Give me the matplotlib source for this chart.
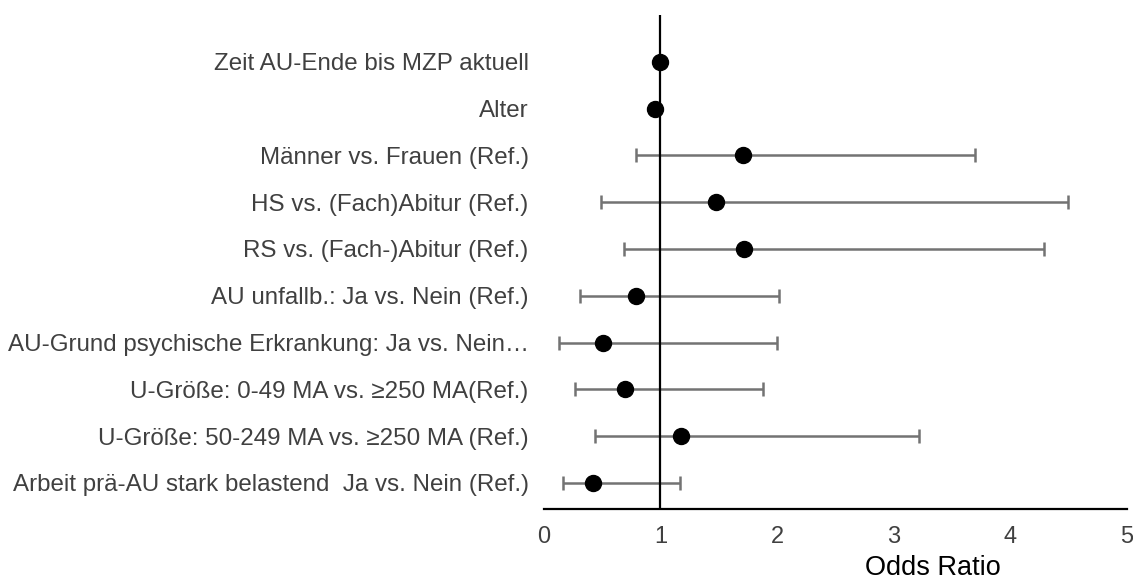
import matplotlib
matplotlib.use('Agg')
import matplotlib.pyplot as plt
import numpy as np

plt.rcParams['font.family'] = ['Liberation Sans', 'DejaVu Sans']

labels = [
    "Zeit AU-Ende bis MZP aktuell",
    "Alter",
    "Männer vs. Frauen (Ref.)",
    "HS vs. (Fach)Abitur (Ref.)",
    "RS vs. (Fach-)Abitur (Ref.)",
    "AU unfallb.: Ja vs. Nein (Ref.)",
    "AU-Grund psychische Erkrankung: Ja vs. Nein…",
    "U-Größe: 0-49 MA vs. ≥250 MA(Ref.)",
    "U-Größe: 50-249 MA vs. ≥250 MA (Ref.)",
    "Arbeit prä-AU stark belastend  Ja vs. Nein (Ref.)",
]
odds = [1.00, 0.95, 1.71, 1.48, 1.72, 0.79, 0.51, 0.70, 1.18, 0.42]
ci_low = [1.00, 0.95, 0.79, 0.49, 0.69, 0.31, 0.13, 0.27, 0.44, 0.16]
ci_high = [1.00, 0.95, 3.70, 4.49, 4.29, 2.02, 2.00, 1.88, 3.22, 1.17]

odds = np.array(odds)
err = np.vstack([odds - np.array(ci_low), np.array(ci_high) - odds])
ypos = np.arange(len(labels))

fig = plt.figure(figsize=(11.33, 5.87), dpi=100)
ax = fig.add_axes([0.480, 0.1329, 0.5147, 0.8415])

# error bars only where there is an interval
has_ci = err.sum(axis=0) > 0
ax.errorbar(odds[has_ci], ypos[has_ci], xerr=err[:, has_ci], fmt='none',
            ecolor='#737373', elinewidth=1.8, capsize=5, capthick=1.8, zorder=2)
ax.axvline(1, color='black', linewidth=1.6, zorder=3)
ax.plot(odds, ypos, 'o', color='black', markersize=11.5, zorder=4)

ax.set_xlim(0, 5)
ax.set_ylim(9.556, -1.0)
ax.set_xticks([0, 1, 2, 3, 4, 5])
ax.set_yticks(ypos)
ax.set_yticklabels(labels)

for s in ['top', 'right', 'left']:
    ax.spines[s].set_visible(False)
ax.spines['bottom'].set_linewidth(1.6)
ax.tick_params(axis='both', length=0)
ax.tick_params(axis='y', pad=11, labelsize=17.4, labelcolor='#404040')
ax.tick_params(axis='x', pad=12, labelsize=17, labelcolor='#404040')

ax.set_xlabel("Odds Ratio", fontsize=19.5, color='black')
ax.xaxis.set_label_coords(0.667, -0.093)

fig.savefig('out.png', dpi=100)
